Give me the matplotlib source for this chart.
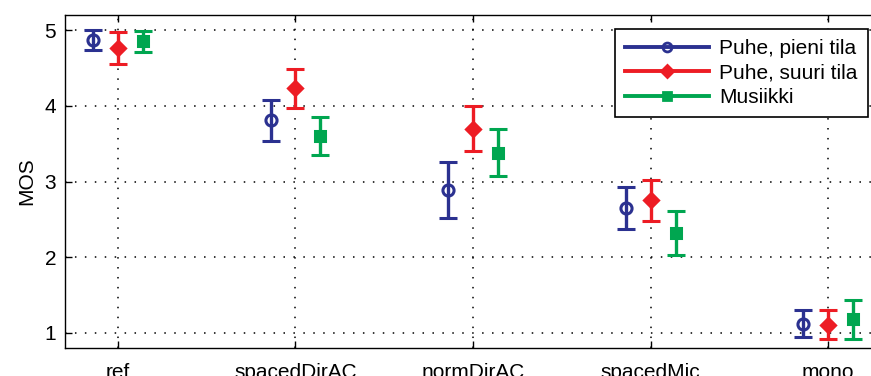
import matplotlib
matplotlib.use("Agg")
import matplotlib.pyplot as plt
from matplotlib.lines import Line2D
import numpy as np

plt.rcParams['font.family'] = ['Liberation Sans', 'DejaVu Sans']

# data
categories = ['ref', 'spacedDirAC', 'normDirAC', 'spacedMic', 'mono']
series = ['Puhe, pieni tila', 'Puhe, suuri tila', 'Musiikki']

mos_small = [4.87, 3.81, 2.89, 2.65, 1.12]
err_small = [0.13, 0.27, 0.37, 0.28, 0.18]

mos_large = [4.76, 4.23, 3.70, 2.75, 1.11]
err_large = [0.21, 0.26, 0.30, 0.27, 0.19]

mos_music = [4.85, 3.60, 3.38, 2.32, 1.18]
err_music = [0.145, 0.25, 0.31, 0.29, 0.26]

colors = ['#2b3190', '#ed1c24', '#00a650']
markers = ['o', 'D', 's']
offsets = [-0.14, 0.0, 0.14]

fig = plt.figure(figsize=(8.71, 3.76), dpi=100)
ax = fig.add_axes([64.5 / 871, 28 / 376, (881.6 - 64.5) / 871, 333 / 376])

x = np.arange(1, len(categories) + 1)
data = [(mos_small, err_small), (mos_large, err_large), (mos_music, err_music)]

handles = []
for (m, e), c, mk, off, name in zip(data, colors, markers, offsets, series):
    fill = 'none' if mk == 'o' else c
    ms = 8 if mk == 'o' else (7.5 if mk == 'D' else 6.5)
    ax.errorbar(x + off, m, yerr=e, fmt=mk, color=c, ecolor=c, elinewidth=2.4,
                capsize=6.2, capthick=2.4, markersize=ms, markerfacecolor=fill,
                markeredgewidth=2.2, linestyle='none', zorder=3)
    # legend shows line + smaller marker, like the MATLAB legend
    handles.append(Line2D([0], [0], color=c, lw=2.8, marker=mk, markersize=ms * 0.8,
                          markerfacecolor=fill, markeredgewidth=2, label=name))

ax.set_xlim(0.7, 5.3)
ax.set_ylim(0.8, 5.2)
ax.set_xticks(x)
ax.set_xticklabels(categories)
ax.set_yticks([1, 2, 3, 4, 5])
ax.set_ylabel('MOS', fontsize=15, labelpad=6)

ax.grid(True, linestyle=(0, (1, 5.5)), color='black', linewidth=1.1)
ax.set_axisbelow(True)
ax.tick_params(direction='in', length=5, width=1, labelsize=15, top=True, right=True)
ax.tick_params(axis='x', pad=11)
ax.tick_params(axis='y', pad=6)
for s in ax.spines.values():
    s.set_linewidth(1)

leg = ax.legend(handles=handles, loc='upper right', bbox_to_anchor=(868 / 871, 1 - 29 / 376),
                bbox_transform=fig.transFigure, fontsize=15, frameon=True, fancybox=False,
                edgecolor='black', handlelength=4.0, borderpad=0.5, labelspacing=0.25,
                handletextpad=0.5, borderaxespad=0, framealpha=1)
leg.get_frame().set_linewidth(1.2)

fig.savefig('out.png', dpi=100)
